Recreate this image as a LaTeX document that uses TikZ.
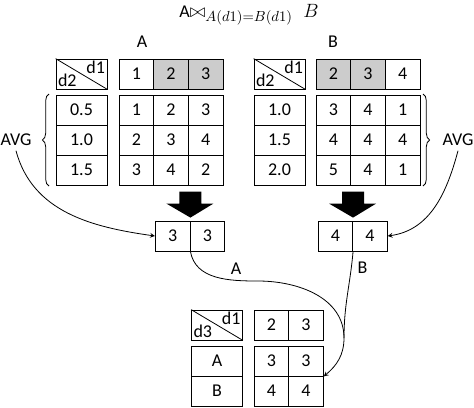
\documentclass[tikz,border=0pt]{standalone}
\usepackage{fontspec}
\setmainfont{Carlito}
\usetikzlibrary{decorations.pathreplacing,calc}
\tikzset{
  cell/.style={draw, minimum width=26pt, minimum height=22.5pt, inner sep=0pt},
  wcell/.style={cell, minimum width=38.25pt},
  conn/.style={->, >=stealth},
  brc/.style={decorate, decoration={brace, amplitude=5pt}}
}
\newcommand{\corner}[4]{% name, position, top label, bottom label
  \node[wcell] (#1) at #2 {};
  \draw (#1.north west) -- (#1.south east);
  \node[anchor=north east, inner sep=1.5pt] at (#1.north east) {#3};
  \node[anchor=south west, inner sep=1.5pt] at (#1.south west) {#4};
}
\begin{document}
\begin{tikzpicture}[x=0.75pt, y=-0.75pt, line width=0.6pt, font=\fontsize{13.5}{15}\selectfont]
  \useasboundingbox (0,0) rectangle (474,407);
  % title and table names
  \node (title) at (249,15) {A$\bowtie_{\hbox{\fontsize{11}{13}\selectfont$A(d1){=}B(d1)$}}\;B$};
  \node (nameA) at (142,42) {A};
  \node (nameB) at (333,42) {B};
  % table A
  \corner{ac}{(81.5,74)}{d1}{d2}
  \foreach \v/\f [count=\i] in {1/white,2/gray!40,3/gray!40}
    \node[cell, fill=\f] (ah\i) at (101.67+34.67*\i,74) {\v};
  \foreach \v [count=\j] in {0.5,1.0,1.5}
    \node[wcell] (av\j) at (81.5,80+30*\j) {\v};
  \foreach \row [count=\j] in {{1,2,3},{2,3,4},{3,4,2}}
    \foreach \v [count=\i] in \row
      \node[cell] (a\j\i) at (101.67+34.67*\i,80+30*\j) {\v};
  % table B
  \corner{bc}{(279.5,74)}{d1}{d2}
  \foreach \v/\f [count=\i] in {2/gray!40,3/gray!40,4/white}
    \node[cell, fill=\f] (bh\i) at (298.67+34.67*\i,74) {\v};
  \foreach \v [count=\j] in {1.0,1.5,2.0}
    \node[wcell] (bv\j) at (279.5,80+30*\j) {\v};
  \foreach \row [count=\j] in {{3,4,1},{4,4,4},{5,4,1}}
    \foreach \v [count=\i] in \row
      \node[cell] (b\j\i) at (298.67+34.67*\i,80+30*\j) {\v};
  % AVG braces
  \draw[brc] (49,186) -- (49,94);
  \draw[brc] (423,94) -- (423,186);
  \node (avgL) at (16,140) {AVG};
  \node (avgR) at (458,140) {AVG};
  % averaged rows
  \node[cell] (rA1) at (172.67,236) {3};
  \node[cell] (rA2) at (207.33,236) {3};
  \node[cell] (rB1) at (335.33,236) {4};
  \node[cell] (rB2) at (370,236) {4};
  % big arrows
  \foreach \r in {rA1,rB1}
    \fill ($(\r.north east)+(-11,-29)$) -- ++(22,0) -- ++(0,12) -- ++(12,0)
      -- ($(\r.north east)+(0,-3)$) -- ++(-24,-14) -- ++(13,0) -- cycle;
  % joined table
  \corner{cc}{(217,325)}{d1}{d3}
  \foreach \v [count=\i] in {2,3}
    \node[cell] (ch\i) at (236.67+34.67*\i,325) {\v};
  \foreach \v [count=\j] in {A,B}
    \node[wcell] (cv\j) at (217,331+30*\j) {\v};
  \foreach \row [count=\j] in {{3,3},{4,4}}
    \foreach \v [count=\i] in \row
      \node[cell] (c\j\i) at (236.67+34.67*\i,331+30*\j) {\v};
  % connectors
  \draw[conn] (avgL.south) to[out=-75,in=172] (rA1.west);
  \draw[conn] (avgR.south) to[out=-105,in=8] (rB2.east);
  \coordinate (mrg) at (344,338);
  \draw (rA1.south east) to[out=-80,in=180] node[pos=0.75, above=1pt] (lA) {A} (258,281)
    to[out=0,in=90] (mrg);
  \draw (rB1.south east) to[out=-95,in=90] node[pos=0.17, right=1pt] (lB) {B} (mrg);
  \draw[conn] (mrg) to[out=-90,in=40] (c12.south east);
\end{tikzpicture}
\end{document}
